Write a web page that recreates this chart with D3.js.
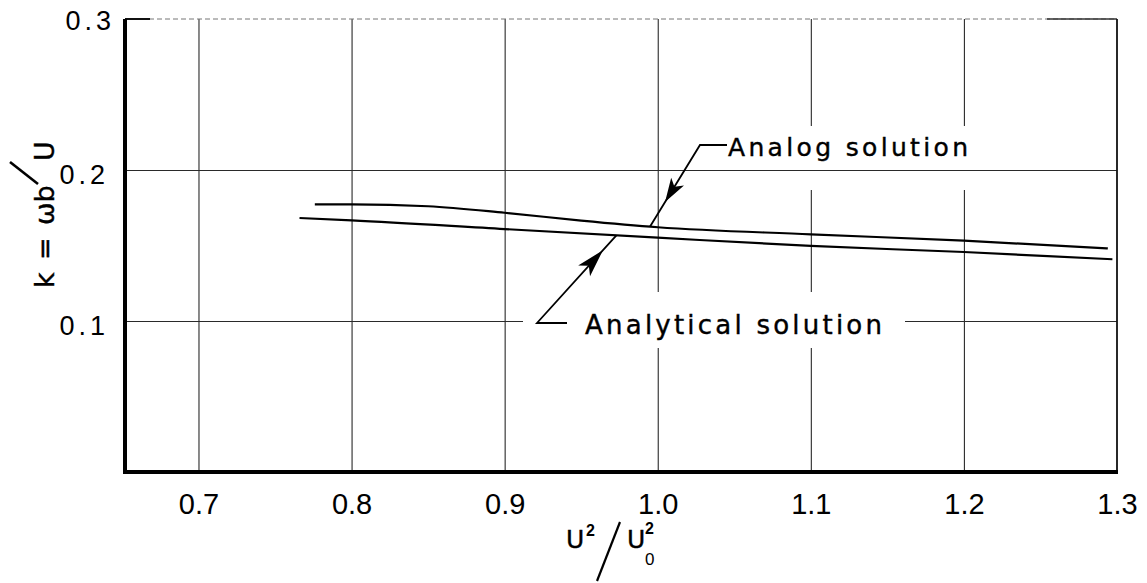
<!DOCTYPE html>
<html>
<head>
<meta charset="utf-8">
<script src="https://cdn.jsdelivr.net/npm/d3@7"></script>
<style>
  body { margin: 0; background: #fff; }
  svg { display: block; }
  text { font-family: "Liberation Sans", "DejaVu Sans", Arial, sans-serif; fill: #000; }
  .lettering { font-family: "DejaVu Sans", "Liberation Sans", sans-serif; stroke: #000; stroke-width: 0.4px; }
</style>
</head>
<body>
<svg id="chart" width="1147" height="583"></svg>
<script>
// Axis ticks
const xTicks = [0.7, 0.8, 0.9, 1.0, 1.1, 1.2, 1.3];
const xTickLabels = ["0.7", "0.8", "0.9", "1.0", "1.1", "1.2", "1.3"];
const yTicks = [0.1, 0.2, 0.3];
const yTickLabels = ["0.1", "0.2", "0.3"];

// Reduced frequency k = ωb/U against U²/U0²
const analogX = [0.776, 0.800, 0.850, 0.900, 0.950, 1.000, 1.100, 1.200, 1.294];
const analogK = [0.1773, 0.1773, 0.1760, 0.1717, 0.1665, 0.1621, 0.1574, 0.1532, 0.1481];
const analyticalX = [0.766, 0.800, 0.900, 1.000, 1.100, 1.200, 1.297];
const analyticalK = [0.1682, 0.1667, 0.1609, 0.1552, 0.1497, 0.1457, 0.1409];

const seriesNames = ["Analog solution", "Analytical solution"];

const plotL = 125, plotR = 1117, plotT = 19, plotB = 472;

const svg = d3.select("#chart");
const x = d3.scaleLinear().domain([0.652, 1.3]).range([plotL, plotR]);
const y = d3.scaleLinear().domain([0, 0.3]).range([plotB, plotT]);

// linear read-off along a series
function valueAt(xs, ks, xv) {
  const i = Math.min(xs.length - 1, Math.max(1, d3.bisectLeft(xs, xv)));
  const t = (xv - xs[i - 1]) / (xs[i] - xs[i - 1]);
  return ks[i - 1] + t * (ks[i] - ks[i - 1]);
}

// vertical grid
const vgrid = svg.append("g")
  .attr("transform", `translate(0,${plotB})`)
  .call(d3.axisBottom(x).tickValues(xTicks.slice(0, -1)).tickSize(-(plotB - plotT)).tickFormat(""));
vgrid.select(".domain").remove();
vgrid.selectAll("line").attr("stroke", "#2a2a2a").attr("stroke-width", 1.1);

// clearance around the upper label
const analogLabel = { x: 728, y: 156 };
svg.append("rect")
  .attr("x", analogLabel.x - 8).attr("y", analogLabel.y - 30)
  .attr("width", 256).attr("height", 64).attr("fill", "#fff");

// horizontal grid
const hgrid = svg.append("g")
  .attr("transform", `translate(${plotL},0)`)
  .call(d3.axisLeft(y).tickValues(yTicks.slice(0, -1)).tickSize(-(plotR - plotL)).tickFormat(""));
hgrid.select(".domain").remove();
hgrid.selectAll("line").attr("stroke", "#2a2a2a").attr("stroke-width", 1.1);

// clearance around the lower label
const analyticalLabel = { x: 585, y: 334 };
svg.append("rect")
  .attr("x", analyticalLabel.x - 62).attr("y", analyticalLabel.y - 42)
  .attr("width", 382).attr("height", 56).attr("fill", "#fff");

// frame
svg.append("line").attr("x1", plotL).attr("x2", plotR).attr("y1", plotT).attr("y2", plotT)
  .attr("stroke", "#777").attr("stroke-width", 1).attr("stroke-dasharray", "5 3");
svg.append("line").attr("x1", plotL).attr("x2", plotL + 25).attr("y1", plotT).attr("y2", plotT)
  .attr("stroke", "#111").attr("stroke-width", 2);
svg.append("line").attr("x1", plotR - 70).attr("x2", plotR).attr("y1", plotT).attr("y2", plotT)
  .attr("stroke", "#333").attr("stroke-width", 1.5);
svg.append("line").attr("x1", plotR).attr("x2", plotR).attr("y1", plotT).attr("y2", plotB)
  .attr("stroke", "#111").attr("stroke-width", 1.8);
svg.append("line").attr("x1", plotL).attr("x2", plotL).attr("y1", plotT).attr("y2", plotB + 2)
  .attr("stroke", "#000").attr("stroke-width", 4);
svg.append("line").attr("x1", plotL - 2).attr("x2", plotR + 1).attr("y1", plotB).attr("y2", plotB)
  .attr("stroke", "#000").attr("stroke-width", 4);

// curves
const line = d3.line().x(d => x(d[0])).y(d => y(d[1])).curve(d3.curveMonotoneX);
svg.append("path").datum(d3.zip(analogX, analogK))
  .attr("d", line).attr("fill", "none").attr("stroke", "#000").attr("stroke-width", 2.2);
svg.append("path").datum(d3.zip(analyticalX, analyticalK))
  .attr("d", line).attr("fill", "none").attr("stroke", "#000").attr("stroke-width", 2.2);

// leader with a filled arrowhead partway along its slanted leg
function leader(p0, p1, p2, t, len, wid) {
  svg.append("path")
    .attr("d", `M${p0[0]},${p0[1]}L${p1[0]},${p1[1]}L${p2[0]},${p2[1]}`)
    .attr("fill", "none").attr("stroke", "#000").attr("stroke-width", 1.8);
  const dx = p2[0] - p1[0], dy = p2[1] - p1[1];
  const L = Math.hypot(dx, dy), ux = dx / L, uy = dy / L;
  const tip = [p1[0] + dx * t, p1[1] + dy * t];
  const b = [tip[0] - ux * len, tip[1] - uy * len];
  const px = -uy * wid / 2, py = ux * wid / 2;
  svg.append("path")
    .attr("d", `M${tip[0]},${tip[1]}L${b[0] + px},${b[1] + py}L${b[0] + ux * len * 0.25},${b[1] + uy * len * 0.25}L${b[0] - px},${b[1] - py}Z`)
    .attr("fill", "#000");
}

const analogAt = 0.995;
leader([analogLabel.x - 1, analogLabel.y - 11], [700, analogLabel.y - 11],
       [x(analogAt), y(valueAt(analogX, analogK, analogAt))], 0.70, 24, 15);
const analyticalAt = 0.973;
leader([analyticalLabel.x - 18, analyticalLabel.y - 11], [537, analyticalLabel.y - 11],
       [x(analyticalAt), y(valueAt(analyticalX, analyticalK, analyticalAt))], 0.83, 28, 16);

// labels
svg.append("text").attr("class", "lettering").attr("x", analogLabel.x).attr("y", analogLabel.y)
  .attr("font-size", 25).attr("textLength", 240).attr("lengthAdjust", "spacing")
  .text(seriesNames[0]);
svg.append("text").attr("class", "lettering").attr("x", analyticalLabel.x).attr("y", analyticalLabel.y)
  .attr("font-size", 26).attr("textLength", 297).attr("lengthAdjust", "spacing")
  .text(seriesNames[1]);

// tick labels
const xa = svg.append("g").attr("transform", `translate(0,${plotB})`)
  .call(d3.axisBottom(x).tickValues(xTicks).tickFormat((d, i) => xTickLabels[i]).tickSize(0).tickPadding(21));
xa.select(".domain").remove();
xa.selectAll("text").attr("font-size", 29).attr("fill", "#000")
  .style("font-family", '"Liberation Sans", "DejaVu Sans", sans-serif');

const ya = svg.append("g").attr("transform", `translate(${plotL},0)`)
  .call(d3.axisLeft(y).tickValues(yTicks).tickFormat((d, i) => yTickLabels[i]).tickSize(0).tickPadding(16));
ya.select(".domain").remove();
ya.selectAll("text").attr("font-size", 27).attr("fill", "#000").attr("dy", "0.5em")
  .attr("letter-spacing", 4)
  .style("font-family", '"Liberation Sans", "DejaVu Sans", sans-serif');
ya.selectAll(".tick").filter(d => d === 0.3).select("text").attr("dx", 6).attr("dy", "0.4em");

// y axis title: k = ωb/U
const yt = svg.append("g").attr("transform", "translate(54,288) rotate(-90)");
const ytt = yt.append("text").attr("class", "lettering").attr("font-size", 27);
ytt.append("tspan").attr("x", 0).attr("y", 0).text("k");
ytt.append("tspan").attr("x", 28).attr("y", 0).text("=");
ytt.append("tspan").attr("x", 63).attr("y", 0).text("ωb");
yt.append("line").attr("x1", 104).attr("y1", -16).attr("x2", 126).attr("y2", -44)
  .attr("stroke", "#000").attr("stroke-width", 2.6);
yt.append("text").attr("class", "lettering").attr("x", 127).attr("y", 0).attr("font-size", 27).text("U");

// x axis title: U²/U0²
const cx = 611;
const xt = svg.append("g").attr("transform", `translate(${cx},0)`);
xt.append("text").attr("class", "lettering").attr("x", -45).attr("y", 548).attr("font-size", 25).text("U");
xt.append("text").attr("x", -25).attr("y", 536).attr("font-size", 16).attr("font-weight", "bold").text("2");
xt.append("line").attr("x1", -14).attr("y1", 581).attr("x2", 9).attr("y2", 522)
  .attr("stroke", "#000").attr("stroke-width", 2.2);
xt.append("text").attr("class", "lettering").attr("x", 16).attr("y", 548).attr("font-size", 25).text("U");
xt.append("text").attr("x", 34).attr("y", 534).attr("font-size", 16).attr("font-weight", "bold").text("2");
xt.append("text").attr("x", 34).attr("y", 565).attr("font-size", 17).text("0");
</script>
</body>
</html>
